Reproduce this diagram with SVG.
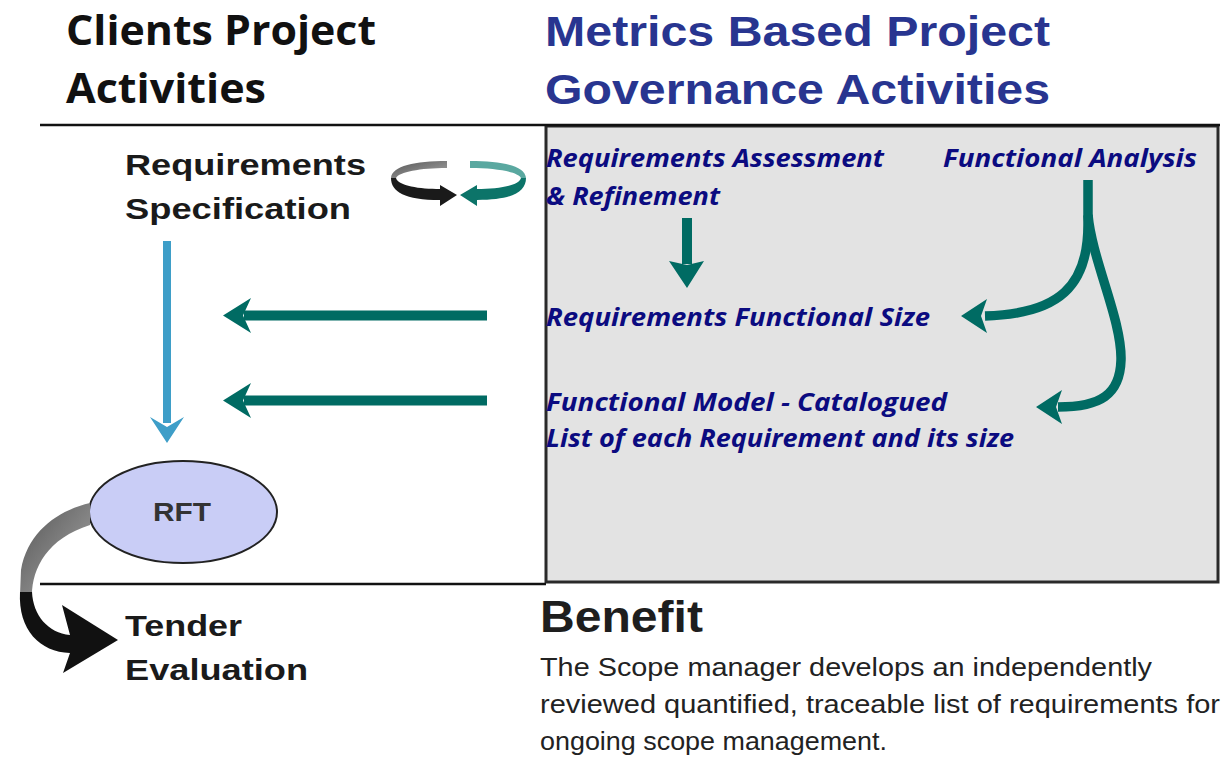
<svg xmlns="http://www.w3.org/2000/svg" width="1225" height="759" viewBox="0 0 1225 759">
<defs>
<style>
.hdr{font-family:"Open Sans","Liberation Sans",sans-serif;font-weight:bold;font-size:42px;fill:#111}
.hdr2{font-family:"Liberation Sans",Arial,sans-serif;font-weight:bold;font-size:42px;fill:#283590}
.lbl{font-family:"Liberation Sans",Arial,sans-serif;font-weight:bold;font-size:30px;fill:#1a1a1a}
.it{font-family:"Open Sans","Liberation Sans",sans-serif;font-weight:bold;font-style:italic;font-size:25.5px;fill:#0b0b80}
.body{font-family:"Liberation Sans",Arial,sans-serif;font-size:25px;fill:#222}
.teal{fill:#006b63}
.tealS{fill:none;stroke:#006b63;stroke-width:9.5}
</style>
<linearGradient id="gr" x1="0" y1="0" x2="1" y2="1">
<stop offset="0" stop-color="#555"/><stop offset="1" stop-color="#a8a8a8"/>
</linearGradient>
</defs>
<rect width="1225" height="759" fill="#fff"/>

<g id="frame">
<rect x="546" y="126" width="672" height="456" fill="#e3e3e3" stroke="#2a2a2a" stroke-width="3"/>
<line x1="40" y1="125" x2="1220" y2="125" stroke="#111" stroke-width="2.5"/>
<line x1="40" y1="584" x2="546" y2="584" stroke="#111" stroke-width="2.5"/>
</g>

<g id="headers">
<text class="hdr" x="66" y="45" textLength="310" lengthAdjust="spacingAndGlyphs">Clients Project</text>
<text class="hdr" x="66" y="103" textLength="200" lengthAdjust="spacingAndGlyphs">Activities</text>
<text class="hdr2" x="545" y="46" textLength="505" lengthAdjust="spacingAndGlyphs">Metrics Based Project</text>
<text class="hdr2" x="545" y="104" textLength="505" lengthAdjust="spacingAndGlyphs">Governance Activities</text>
</g>

<g id="req-spec">
<text class="lbl" x="125" y="175" textLength="241" lengthAdjust="spacingAndGlyphs">Requirements</text>
<text class="lbl" x="125" y="219" textLength="226" lengthAdjust="spacingAndGlyphs">Specification</text>
</g>

<g id="cycle">
<path d="M447,161 C415,161 392,166 391,178 L396,178 C399,172 420,168 447,168 Z" fill="url(#gr)"/>
<path d="M391,178 L396,178 C398,186 420,189 440,189 L440,185 L457,195 L440,206 L440,200 C405,200 391,192 391,178 Z" fill="#1a1a1a"/>
<path d="M470,161 C502,161 525,166 526,178 L521,178 C518,172 497,168 470,168 Z" fill="#5aa8a0"/>
<path d="M526,178 L521,178 C519,186 497,189 477,189 L477,185 L460,195 L477,206 L477,200 C512,200 526,192 526,178 Z" fill="#0c7469"/>
</g>

<g id="rft">
<ellipse cx="183" cy="512" rx="94" ry="51" fill="#c9cdf6" stroke="#222" stroke-width="2"/>
<text x="153" y="521" font-family="Liberation Sans, Arial, sans-serif" font-weight="bold" font-size="25" fill="#333" textLength="58" lengthAdjust="spacingAndGlyphs">RFT</text>
</g>

<g id="tender">
<text class="lbl" x="125" y="636" textLength="117" lengthAdjust="spacingAndGlyphs">Tender</text>
<text class="lbl" x="125" y="680" textLength="183" lengthAdjust="spacingAndGlyphs">Evaluation</text>
</g>

<g id="req-assess">
<text class="it" x="546" y="167" textLength="338" lengthAdjust="spacingAndGlyphs">Requirements Assessment</text>
<text class="it" x="546" y="205" textLength="174" lengthAdjust="spacingAndGlyphs">&amp; Refinement</text>
</g>
<g id="func-analysis">
<text class="it" x="943" y="167" textLength="254" lengthAdjust="spacingAndGlyphs">Functional Analysis</text>
</g>
<g id="func-size">
<text class="it" x="546" y="326" textLength="384" lengthAdjust="spacingAndGlyphs">Requirements Functional Size</text>
</g>
<g id="func-model">
<text class="it" x="546" y="411" textLength="401" lengthAdjust="spacingAndGlyphs">Functional Model - Catalogued</text>
<text class="it" x="546" y="447" textLength="468" lengthAdjust="spacingAndGlyphs">List of each Requirement and its size</text>
</g>

<g id="benefit">
<text x="540" y="632" font-family="Liberation Sans, Arial, sans-serif" font-weight="bold" font-size="44" fill="#1e1e1e" textLength="163" lengthAdjust="spacingAndGlyphs">Benefit</text>
<text class="body" x="540" y="676" textLength="612" lengthAdjust="spacingAndGlyphs">The Scope manager develops an independently</text>
<text class="body" x="540" y="713" textLength="680" lengthAdjust="spacingAndGlyphs">reviewed quantified, traceable list of requirements for</text>
<text class="body" x="540" y="750" textLength="347" lengthAdjust="spacingAndGlyphs">ongoing scope management.</text>
</g>

<g id="connectors">
<rect x="163" y="241" width="8" height="182" fill="#3e9ec8"/>
<polygon points="150,417 167,427 184,417 167,443" fill="#3e9ec8"/>
<rect x="244" y="310.5" width="243" height="10" class="teal"/>
<polygon points="223,315.5 251,298 243,315.5 251,333" class="teal"/>
<rect x="244" y="395.5" width="243" height="10" class="teal"/>
<polygon points="223,400.5 251,383 243,400.5 251,418" class="teal"/>
<rect x="682" y="218" width="10" height="46" class="teal"/>
<polygon points="669,261 687,265 704,261 687,288" class="teal"/>
<path class="tealS" d="M1088,180 L1088,225 C1088,285 1060,314 985,316"/>
<polygon points="961,316 987,299 981,316 987,333" class="teal"/>
<path class="tealS" d="M1088,215 C1092,260 1122,320 1121,360 C1120,395 1100,407 1058,407"/>
<polygon points="1036,407 1062,390 1056,407 1062,424" class="teal"/>
<path d="M90,503 C60,510 28,530 21,570 L20,595 L32,595 C32,568 48,538 90,525 Z" fill="url(#gr)"/>
<path d="M20,592 C18,630 40,652 70,653 L63,673 L118,640 L62,605 L70,635 C48,633 33,615 32,592 Z" fill="#111"/>
</g>
</svg>
